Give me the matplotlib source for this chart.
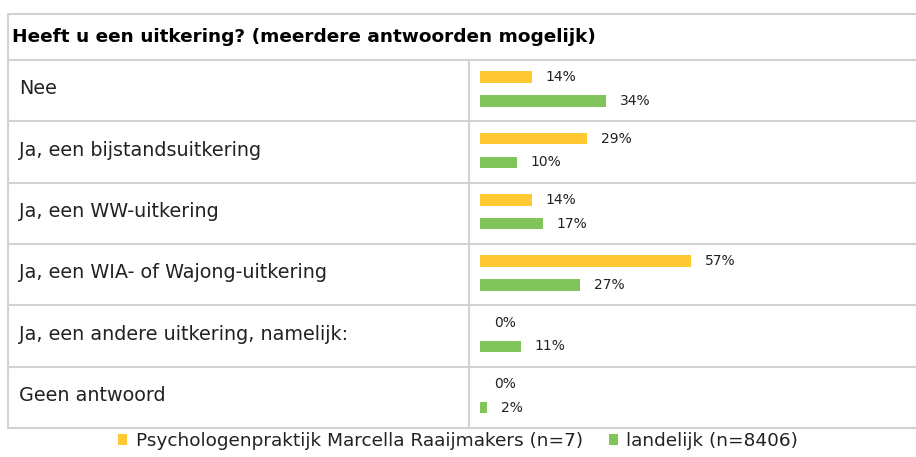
import matplotlib.pyplot as plt
import numpy as np

title = 'Heeft u een uitkering? (meerdere antwoorden mogelijk)'
categories = ['Nee', 'Ja, een bijstandsuitkering', 'Ja, een WW-uitkering',
              'Ja, een WIA- of Wajong-uitkering', 'Ja, een andere uitkering, namelijk:',
              'Geen antwoord']
praktijk = [14, 29, 14, 57, 0, 0]
landelijk = [34, 10, 17, 27, 11, 2]
series_names = ['Psychologenpraktijk Marcella Raaijmakers (n=7)', 'landelijk (n=8406)']

color_yellow = '#FFC933'
color_green = '#80C45A'
grid_color = '#D2D2D2'
text_color = '#222222'

W, H = 916, 457
fig = plt.figure(figsize=(W / 100, H / 100), dpi=100)

# background axes in pixel coordinates for the table frame
bg = fig.add_axes([0, 0, 1, 1])
bg.set_xlim(0, W)
bg.set_ylim(H, 0)
bg.axis('off')

top, head_bot, bottom = 13.5, 60, 428
left, split = 7.5, 469
n = len(categories)
edges = np.linspace(head_bot, bottom, n + 1)
lw = 1.5
for y in [top] + list(edges):
    bg.plot([left, W], [y, y], color=grid_color, lw=lw, solid_capstyle='butt')
bg.plot([left, left], [top, bottom], color=grid_color, lw=lw)
bg.plot([split, split], [head_bot, bottom], color=grid_color, lw=lw)

bg.text(12, (top + head_bot) / 2, title, fontsize=13.3, fontweight='bold',
        color='black', va='center', ha='left')
for i, cat in enumerate(categories):
    bg.text(19, (edges[i] + edges[i + 1]) / 2 - 2, cat, fontsize=13.8,
            color=text_color, va='center', ha='left')

# bar axes: 100% = 370 px, rows from head_bot to bottom
bar_left, bar_w = 480, 370
ax = fig.add_axes([bar_left / W, 1 - bottom / H, bar_w / W, (bottom - head_bot) / H])
ax.set_xlim(0, 100)
ax.set_ylim(n, 0)
ax.axis('off')

y = np.arange(n) + 0.5
h = 0.185
r1 = ax.barh(y - 0.22, praktijk, h, color=color_yellow, label=series_names[0])
r2 = ax.barh(y + 0.17, landelijk, h, color=color_green, label=series_names[1])
for rects, vals in [(r1, praktijk), (r2, landelijk)]:
    ax.bar_label(rects, labels=[f'{v}%' for v in vals], padding=10,
                 fontsize=10, color=text_color)

fig.legend(handles=[r1, r2], loc='center', bbox_to_anchor=(0.5, 1 - 441 / H),
           ncol=2, frameon=False, fontsize=13.3, handlelength=0.5, handleheight=0.5,
           handletextpad=0.45, columnspacing=1.4, labelcolor=text_color)

fig.savefig('out.png', dpi=100)
